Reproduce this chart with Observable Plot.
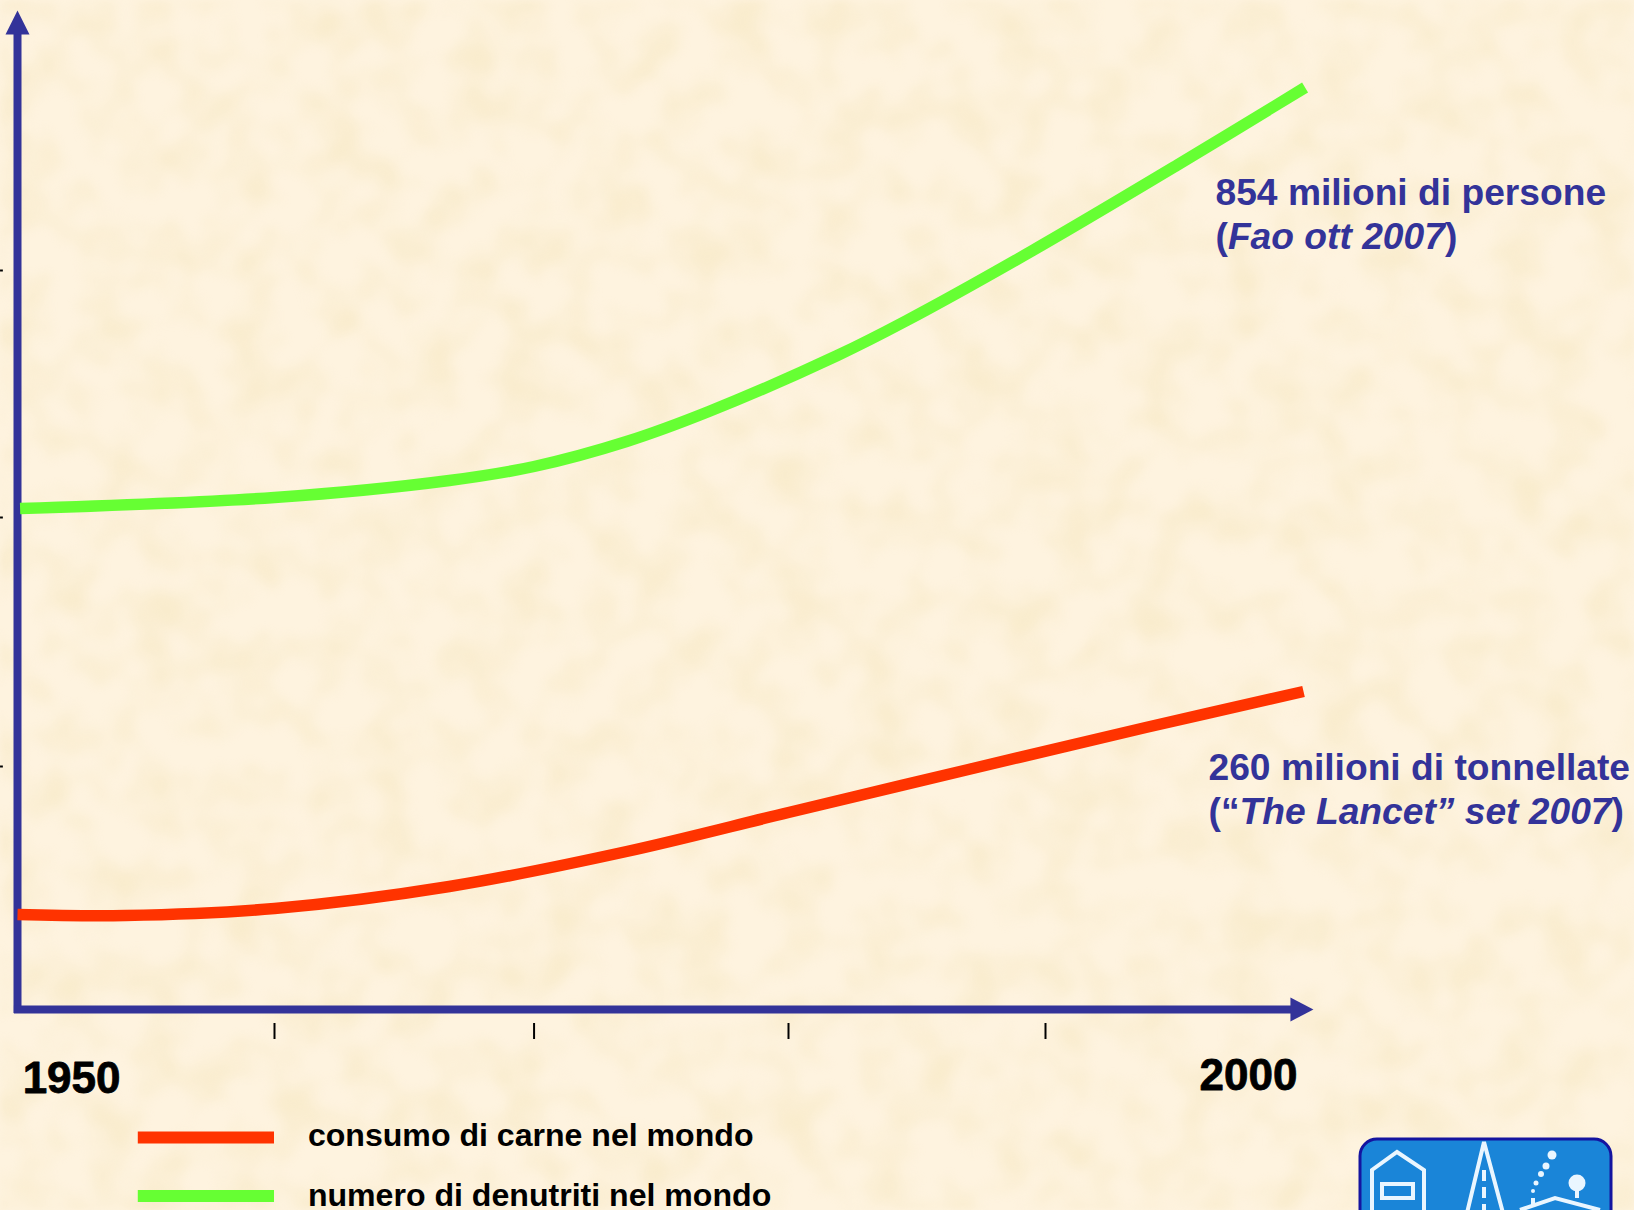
<!DOCTYPE html>
<html lang="it">
<head>
<meta charset="utf-8">
<title>Consumo di carne e denutriti nel mondo</title>
<script src="https://cdn.jsdelivr.net/npm/d3@7"></script>
<script src="https://cdn.jsdelivr.net/npm/@observablehq/plot@0.6"></script>
<style>
html,body{margin:0;padding:0;width:1634px;height:1210px;overflow:hidden;background-color:#fdf2dc;}
body{position:relative;}
#tex{position:absolute;left:0;top:0;}
#chart{position:absolute;left:0;top:0;}
#chart svg{background:transparent;display:block;}
#logo{position:absolute;left:1355px;top:1135px;}
</style>
</head>
<body>
<svg id="tex" width="1634" height="1210" aria-hidden="true">
  <filter id="mottle" x="0" y="0" width="100%" height="100%" color-interpolation-filters="sRGB">
    <feTurbulence type="fractalNoise" baseFrequency="0.022" numOctaves="2" seed="7"/>
    <feColorMatrix type="matrix" values="0 0 0 0 0.96  0 0 0 0 0.90  0 0 0 0 0.74  2.4 0 0 0 -0.95"/>
    <feGaussianBlur stdDeviation="3"/>
  </filter>
  <rect width="1634" height="1210" fill="#fef3df"/>
  <rect width="1634" height="1210" filter="url(#mottle)" opacity="0.5"/>
</svg>
<div id="chart"></div>
<svg id="logo" width="279" height="75" aria-hidden="true">
  <rect x="5" y="4" width="251" height="110" rx="17" fill="#1a85d8" stroke="#1414a0" stroke-width="3"/>
  <g fill="none" stroke="#eaf6ff" stroke-width="4">
    <path d="M17 80V35L42 17L69 35V80"/>
    <rect x="27" y="49" width="31" height="14"/>
    <path d="M112 78L129 7L148 78"/>
    <path d="M129 35V76" stroke-dasharray="11 6"/>
    <path d="M165 75L200 63L245 75"/>
    <path d="M222 48V63M178 63V72"/>
  </g>
  <g fill="#eaf6ff">
    <circle cx="222" cy="48" r="8.5"/>
    <circle cx="197" cy="20" r="4.5"/>
    <circle cx="191" cy="31" r="3.5"/>
    <circle cx="186" cy="39" r="3"/>
    <circle cx="181" cy="48" r="2.5"/>
    <circle cx="178" cy="56" r="2"/>
  </g>
</svg>
<script>
const BLUE = "#333399", RED = "#ff3300", GREEN = "#66ff33";
const FONT = "'Liberation Sans', Arial, sans-serif";

const greenYears  = [1950.1,1960,1966.8,1970.1,1973.7,1976.9,1981.9,1984.6,1989.5,1995.1,2000.1];
const greenValues = [501,512,529,543,568,598,654,689,759,844,922];
const redYears    = [1950,1954.2,1960,1966.8,1973.7,1980,1987,1993.9,2000.04];
const redValues   = [95,94,101,123,158,197,240,282,318];

const xTicks = [1960,1970.1,1980,1990];
const yTicks = [243,492,739];

const series = [
  {name:"consumo di carne nel mondo", color:RED, years:redYears, values:redValues, legendY:-128, textY:-126},
  {name:"numero di denutriti nel mondo", color:GREEN, years:greenYears, values:greenValues, legendY:-186.5, textY:-186}
];
const startLabels = [{x:1950.2, y:-69, text:"1950"}];
const endLabels = [{x:1999.8, y:-66, text:"2000"}];
const notes = [
  {dx:1215, dy:193, text:"854 milioni di persone"},
  {dx:1215, dy:237, text:"(Fao ott 2007)"},
  {dx:1208, dy:768, text:"260 milioni di tonnellate"},
  {dx:1208, dy:812, text:"(“The Lancet” set 2007)"}
];
const italics = {
  "(Fao ott 2007)": ["(", "Fao ott 2007", ")"],
  "(“The Lancet” set 2007)": ["(“", "The Lancet” set 2007", ")"]
};

const head = {draw(c, l, r){ c.moveTo(-r,0); c.lineTo(0,-l); c.lineTo(r,0); c.closePath(); }};

const linePts = s => s.years.map((y,i)=>({year:y, value:s.values[i]}));
const bigText = {x:"x",y:"y",text:"text",fontSize:44,fontWeight:"bold",fontFamily:FONT,fill:"#000",stroke:"#000",strokeWidth:0.8,lineAnchor:"middle"};

const plot = Plot.plot({
  width:1634, height:1210,
  marginTop:0, marginRight:0, marginBottom:0, marginLeft:0,
  x:{domain:[1950,2000], range:[17,1302], axis:null},
  y:{domain:[0,1000], range:[1009,9], axis:null},
  style:{background:"transparent", fontFamily:FONT},
  marks:[
    Plot.ruleX(xTicks,{y1:-14, y2:-30, stroke:"#000", strokeWidth:2}),
    Plot.ruleY(yTicks,{x1:1949.34, x2:1949.45, stroke:"#000", strokeWidth:2}),
    Plot.ruleX([1950],{y1:-4, y2:976, stroke:BLUE, strokeWidth:8}),
    Plot.ruleY([0],{x1:1949.88, x2:1999.6, stroke:BLUE, strokeWidth:8}),
    Plot.vector([{x:1950,y:975,r:0}],{x:"x",y:"y",rotate:"r",length:24,r:12,shape:head,anchor:"start",fill:BLUE,stroke:"none"}),
    Plot.vector([{x:1999.53,y:0,r:90}],{x:"x",y:"y",rotate:"r",length:23,r:12,shape:head,anchor:"start",fill:BLUE,stroke:"none"}),
    ...series.map(s=>Plot.line(linePts(s),{x:"year",y:"value",stroke:s.color,strokeWidth:11.5,curve:"catmull-rom",strokeLinecap:"butt"})),
    Plot.text(startLabels,{...bigText,textAnchor:"start"}),
    Plot.text(endLabels,{...bigText,textAnchor:"end"}),
    ...series.map(s=>Plot.ruleY([s.legendY],{x1:1954.7,x2:1960,stroke:s.color,strokeWidth:12})),
    ...series.map(s=>Plot.text([s],{x:()=>1961.3,y:"textY",text:"name",textAnchor:"start",fontSize:32.1,fontWeight:"bold",fontFamily:FONT,fill:"#000",lineAnchor:"middle"})),
    ...notes.map(n=>Plot.text([n],{frameAnchor:"top-left",dx:n.dx,dy:n.dy,text:"text",textAnchor:"start",lineAnchor:"middle",fontSize:37.2,fontWeight:"bold",fontFamily:FONT,fill:BLUE}))
  ]
});
plot.querySelectorAll("text").forEach(t=>{
  const parts = italics[t.textContent];
  if(!parts) return;
  t.textContent = "";
  parts.forEach((p,i)=>{
    const ts = document.createElementNS("http://www.w3.org/2000/svg","tspan");
    ts.textContent = p;
    if(i===1) ts.setAttribute("font-style","italic");
    t.appendChild(ts);
  });
});
document.getElementById("chart").appendChild(plot);
</script>
</body>
</html>
